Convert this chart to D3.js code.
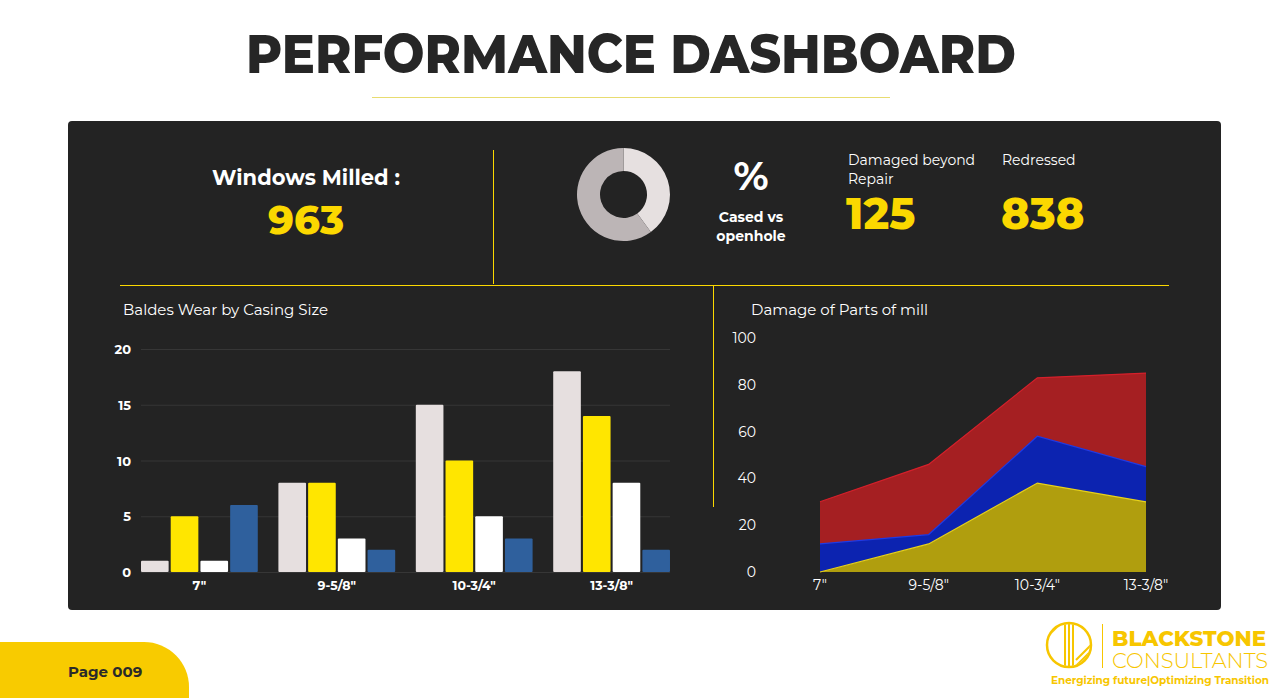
<!DOCTYPE html>
<html>
<head>
<meta charset="utf-8">
<script src="https://cdn.jsdelivr.net/npm/d3@7"></script>
<style>
  html, body { margin: 0; padding: 0; background: #fff; }
  svg text { font-family: "Montserrat", "Inter", "Open Sans", sans-serif; }
</style>
</head>
<body>
<div id="chart"></div>
<script>
// data
var casingSizes = ['7"', '9-5/8"', '10-3/4"', '13-3/8"'];
var wearA = [1, 8, 15, 18];
var wearB = [5, 8, 10, 14];
var wearC = [1, 3, 5, 8];
var wearD = [6, 2, 3, 2];
var wearTicks = [0, 5, 10, 15, 20];

var damageYellow = [0, 12, 38, 30];
var damageBlue = [12, 4, 20, 15];
var damageRed = [18, 30, 25, 40];
var damageTicks = [0, 20, 40, 60, 80, 100];

var casedVsOpen = [40, 60];
var windowsMilled = 963;
var damagedBeyond = 125;
var redressed = 838;

var w = 1277;
var h = 698;
var yellow = "#fbd800";

var svg = d3.select("#chart")
            .append("svg")
            .attr("width", w)
            .attr("height", h);

svg.append("rect").attr("width", w).attr("height", h).attr("fill", "#fff");

// title
svg.append("text")
   .attr("x", 631).attr("y", 73)
   .attr("text-anchor", "middle")
   .attr("font-size", 54).attr("font-weight", 800)
   .attr("fill", "#262626")
   .attr("textLength", 770).attr("lengthAdjust", "spacingAndGlyphs")
   .text("PERFORMANCE DASHBOARD");

svg.append("line")
   .attr("x1", 372).attr("x2", 890).attr("y1", 97.5).attr("y2", 97.5)
   .attr("stroke", "#e8dc70").attr("stroke-width", 1);

// dark panel
svg.append("rect")
   .attr("x", 68).attr("y", 121).attr("width", 1153).attr("height", 489)
   .attr("rx", 4).attr("fill", "#232323");

// dividers
svg.append("line")
   .attr("x1", 493.5).attr("x2", 493.5).attr("y1", 150).attr("y2", 284)
   .attr("stroke", yellow).attr("stroke-width", 1);
svg.append("line")
   .attr("x1", 120).attr("x2", 1169).attr("y1", 285.5).attr("y2", 285.5)
   .attr("stroke", yellow).attr("stroke-width", 1);
svg.append("line")
   .attr("x1", 713.5).attr("x2", 713.5).attr("y1", 286).attr("y2", 507)
   .attr("stroke", yellow).attr("stroke-width", 1);

// KPI: windows milled
svg.append("text")
   .attr("x", 306).attr("y", 185).attr("text-anchor", "middle")
   .attr("font-size", 21).attr("font-weight", 700).attr("fill", "#fff")
   .text("Windows Milled :");
svg.append("text")
   .attr("x", 306).attr("y", 234).attr("text-anchor", "middle")
   .attr("font-size", 40).attr("font-weight", 800).attr("fill", yellow)
   .text(windowsMilled);

// donut
var pie = d3.pie().sort(null);
var arc = d3.arc().innerRadius(23.5).outerRadius(46.5);
svg.append("g")
   .attr("transform", "translate(623.5,194.5)")
   .selectAll("path")
   .data(pie(casedVsOpen))
   .enter()
   .append("path")
   .attr("d", arc)
   .attr("fill", function(d, i) { return i === 0 ? "#e6e0e0" : "#bcb5b6"; });

svg.append("text")
   .attr("x", 751).attr("y", 190).attr("text-anchor", "middle")
   .attr("font-size", 40).attr("font-weight", 700).attr("fill", "#fff")
   .text("%");
svg.append("text")
   .attr("x", 751).attr("y", 222).attr("text-anchor", "middle")
   .attr("font-size", 14).attr("font-weight", 700).attr("fill", "#fff")
   .text("Cased vs");
svg.append("text")
   .attr("x", 751).attr("y", 241).attr("text-anchor", "middle")
   .attr("font-size", 14).attr("font-weight", 700).attr("fill", "#fff")
   .text("openhole");

// KPI: damaged / redressed
svg.append("text")
   .attr("x", 848).attr("y", 165)
   .attr("font-size", 14).attr("fill", "#fff")
   .text("Damaged beyond");
svg.append("text")
   .attr("x", 848).attr("y", 184)
   .attr("font-size", 14).attr("fill", "#fff")
   .text("Repair");
svg.append("text")
   .attr("x", 846).attr("y", 229)
   .attr("font-size", 43).attr("font-weight", 800).attr("fill", yellow)
   .text(damagedBeyond);
svg.append("text")
   .attr("x", 1001).attr("y", 229)
   .attr("font-size", 43).attr("font-weight", 800).attr("fill", yellow)
   .text(redressed);
svg.append("text")
   .attr("x", 1002).attr("y", 165)
   .attr("font-size", 14).attr("fill", "#fff")
   .text("Redressed");

/////////////////////////////////
// BAR CHART
svg.append("text")
   .attr("x", 123).attr("y", 315)
   .attr("font-size", 15).attr("fill", "#fff")
   .text("Baldes Wear by Casing Size");

var barX = d3.scaleBand()
             .domain(casingSizes)
             .range([141, 670])
             .paddingInner(0.15)
             .paddingOuter(0);
var barY = d3.scaleLinear().domain([0, 20]).range([572, 349]);

var wearSeries = [wearA, wearB, wearC, wearD];
var wearColors = ["#e6dfdf", "#ffe600", "#ffffff", "#2f609d"];
var subX = d3.scaleBand()
             .domain(d3.range(wearSeries.length))
             .range([0, barX.bandwidth()])
             .paddingInner(0.07);

var barG = svg.append("g");
barG.selectAll("line.grid")
    .data(wearTicks)
    .enter()
    .append("line")
    .attr("class", "grid")
    .attr("x1", 141).attr("x2", 670)
    .attr("y1", function(d) { return barY(d) + 0.5; })
    .attr("y2", function(d) { return barY(d) + 0.5; })
    .attr("stroke", "#363636").attr("stroke-width", 1);

barG.selectAll("text.ytick")
    .data(wearTicks)
    .enter()
    .append("text")
    .attr("class", "ytick")
    .attr("x", 131)
    .attr("y", function(d) { return barY(d) + 5; })
    .attr("text-anchor", "end")
    .attr("font-size", 13).attr("font-weight", 700).attr("fill", "#fff")
    .text(function(d) { return d; });

var groups = barG.selectAll("g.group")
    .data(casingSizes)
    .enter()
    .append("g")
    .attr("class", "group")
    .attr("transform", function(d) { return "translate(" + barX(d) + ",0)"; });

groups.selectAll("rect")
    .data(function(d, gi) {
        return wearSeries.map(function(s, si) { return { s: si, v: s[gi] }; });
    })
    .enter()
    .append("rect")
    .attr("x", function(d) { return subX(d.s); })
    .attr("y", function(d) { return barY(d.v); })
    .attr("width", subX.bandwidth())
    .attr("height", function(d) { return barY(0) - barY(d.v); })
    .attr("rx", 1)
    .attr("fill", function(d) { return wearColors[d.s]; });

barG.selectAll("text.xtick")
    .data(casingSizes)
    .enter()
    .append("text")
    .attr("class", "xtick")
    .attr("x", function(d) { return barX(d) + barX.bandwidth() / 2; })
    .attr("y", 590)
    .attr("text-anchor", "middle")
    .attr("font-size", 12.5).attr("font-weight", 700).attr("fill", "#fff")
    .text(function(d) { return d; });

/////////////////////////////////
// AREA CHART
svg.append("text")
   .attr("x", 751).attr("y", 315)
   .attr("font-size", 15).attr("fill", "#fff")
   .text("Damage of Parts of mill");

var areaX = d3.scalePoint().domain(casingSizes).range([820, 1146]);
var areaY = d3.scaleLinear().domain([0, 100]).range([572, 338]);

var table = casingSizes.map(function(c, i) {
    return { size: c, yellow: damageYellow[i], blue: damageBlue[i], red: damageRed[i] };
});
var stacked = d3.stack().keys(["yellow", "blue", "red"])(table);
var fills = { yellow: "#b09e0e", blue: "#0c23b0", red: "#a51f22" };
var strokes = { yellow: "#e8d21a", blue: "#1f3ae6", red: "#d4202b" };

var area = d3.area()
    .x(function(d) { return areaX(d.data.size); })
    .y0(function(d) { return areaY(d[0]); })
    .y1(function(d) { return areaY(d[1]); });
var topLine = d3.line()
    .x(function(d) { return areaX(d.data.size); })
    .y(function(d) { return areaY(d[1]); });

var areaG = svg.append("g");
areaG.selectAll("path.area")
    .data(stacked)
    .enter()
    .append("path")
    .attr("class", "area")
    .attr("d", area)
    .attr("fill", function(d) { return fills[d.key]; });
areaG.selectAll("path.edge")
    .data(stacked)
    .enter()
    .append("path")
    .attr("class", "edge")
    .attr("d", topLine)
    .attr("fill", "none")
    .attr("stroke", function(d) { return strokes[d.key]; })
    .attr("stroke-width", 1.2);

areaG.selectAll("text.ytick")
    .data(damageTicks)
    .enter()
    .append("text")
    .attr("class", "ytick")
    .attr("x", 756)
    .attr("y", function(d) { return areaY(d) + 5; })
    .attr("text-anchor", "end")
    .attr("font-size", 14).attr("fill", "#fff")
    .text(function(d) { return d; });

areaG.selectAll("text.xtick")
    .data(casingSizes)
    .enter()
    .append("text")
    .attr("class", "xtick")
    .attr("x", function(d) { return areaX(d); })
    .attr("y", 590)
    .attr("text-anchor", "middle")
    .attr("font-size", 14).attr("fill", "#fff")
    .text(function(d) { return d; });

/////////////////////////////////
// PAGE TAG
svg.append("path")
   .attr("d", "M0,642 H144 A45,45 0 0 1 189,687 V698 H0 Z")
   .attr("fill", "#f8cb00");
svg.append("text")
   .attr("x", 68).attr("y", 677)
   .attr("font-size", 15).attr("font-weight", 700).attr("fill", "#2a2a2a")
   .text("Page 009");

// LOGO
var logoColor = "#f7c600";
var logo = svg.append("g");
logo.append("clipPath").attr("id", "logoClip")
    .append("circle").attr("cx", 1069).attr("cy", 645).attr("r", 21);
logo.append("circle")
    .attr("cx", 1069).attr("cy", 645).attr("r", 22)
    .attr("fill", "none").attr("stroke", logoColor).attr("stroke-width", 2.5);
var lg = logo.append("g").attr("clip-path", "url(#logoClip)")
    .attr("stroke", logoColor).attr("stroke-width", 2).attr("fill", "none");
[-4, 0, 4].forEach(function(dx) {
    lg.append("line").attr("x1", 1069 + dx).attr("x2", 1069 + dx)
      .attr("y1", 620).attr("y2", 670);
});
[-8, -2, 4].forEach(function(o) {
    lg.append("line").attr("x1", 1040).attr("y1", 640 + o)
      .attr("x2", 1062).attr("y2", 618 + o);
    lg.append("line").attr("x1", 1076).attr("y1", 672 + o - 4)
      .attr("x2", 1098).attr("y2", 650 + o - 4);
});
logo.append("line")
    .attr("x1", 1102.5).attr("x2", 1102.5).attr("y1", 624).attr("y2", 668)
    .attr("stroke", logoColor).attr("stroke-width", 1);
logo.append("text")
    .attr("x", 1112).attr("y", 646)
    .attr("font-size", 21).attr("font-weight", 800).attr("fill", logoColor)
    .attr("textLength", 154).attr("lengthAdjust", "spacingAndGlyphs")
    .text("BLACKSTONE");
logo.append("text")
    .attr("x", 1112).attr("y", 668)
    .attr("font-size", 20).attr("font-weight", 300).attr("fill", logoColor)
    .attr("textLength", 156).attr("lengthAdjust", "spacingAndGlyphs")
    .text("CONSULTANTS");
logo.append("text")
    .attr("x", 1051).attr("y", 684)
    .attr("font-size", 10.5).attr("font-weight", 700).attr("fill", logoColor)
    .attr("textLength", 218).attr("lengthAdjust", "spacingAndGlyphs")
    .text("Energizing future|Optimizing Transition");
</script>
</body>
</html>
